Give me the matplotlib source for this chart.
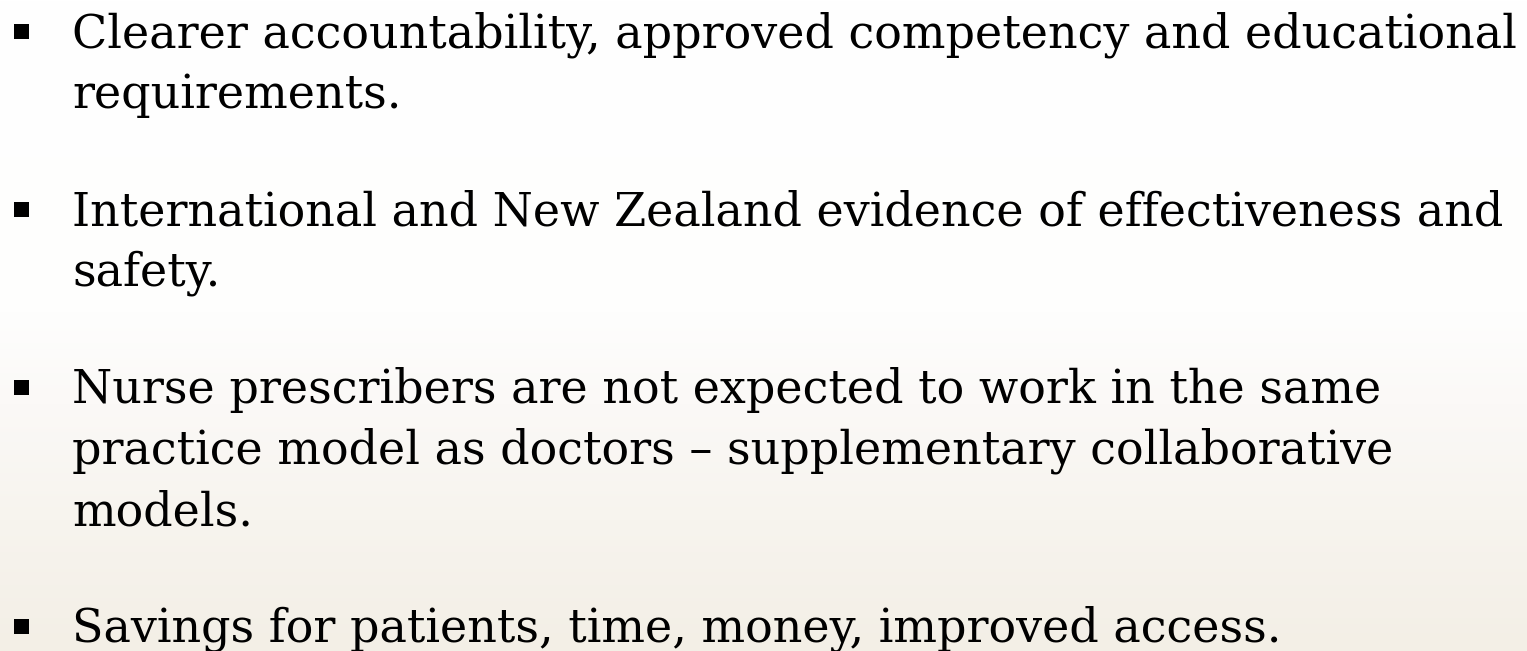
import numpy as np
import matplotlib
matplotlib.use("Agg")
import matplotlib.pyplot as plt
from matplotlib.colors import LinearSegmentedColormap
from matplotlib.patches import Rectangle

W, H = 1527, 651
DPI = 100

bullets = [
    ["Clearer accountability, approved competency and educational",
     "requirements."],
    ["International and New Zealand evidence of effectiveness and",
     "safety."],
    ["Nurse prescribers are not expected to work in the same",
     "practice model as doctors \u2013 supplementary collaborative",
     "models."],
    ["Savings for patients, time, money, improved access."],
]

first_baseline = 47
line_step = 61
para_gap = 117
text_x = 72
text_right = 1518
bullet_x = 14
bullet_size = 15

fig = plt.figure(figsize=(W / DPI, H / DPI), dpi=DPI)

# background: white on top fading to warm beige at the bottom
bg = fig.add_axes([0, 0, 1, 1])
bg.set_axis_off()
cmap = LinearSegmentedColormap.from_list(
    "slide", [(0.0, "#ffffff"), (0.48, "#fefefd"), (0.62, "#fbf9f7"),
              (0.8, "#f7f4ee"), (1.0, "#f3efe6")])
grad = np.linspace(0, 1, 256).reshape(-1, 1)
bg.imshow(grad, aspect="auto", cmap=cmap, extent=[0, W, H, 0])
bg.set_xlim(0, W)
bg.set_ylim(H, 0)

family = "DejaVu Serif"

# fit the font so the first line spans the same width as in the slide
probe = fig.text(0, 0, bullets[0][0], fontsize=30, family=family)
fig.canvas.draw()
w = probe.get_window_extent().width
probe.remove()
fsize = 30 * (text_right - text_x) / w

y = first_baseline
for para in bullets:
    bg.add_patch(Rectangle((bullet_x, y - 16 - bullet_size / 2), bullet_size,
                           bullet_size, color="black", lw=0))
    for line in para:
        bg.text(text_x, y, line, fontsize=fsize, family=family,
                color="black", va="baseline", ha="left")
        y += line_step
    y += para_gap - line_step

fig.savefig("out.png", dpi=DPI)
